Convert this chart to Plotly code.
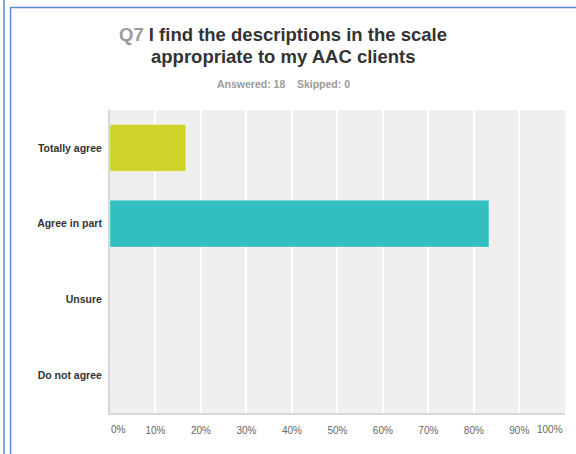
import plotly.graph_objects as go

# Survey responses for Q7 (18 answered)
categories = ["Totally agree", "Agree in part", "Unsure", "Do not agree"]
percentages = [16.67, 83.33, 0.0, 0.0]
bar_colors = ["#D0D42A", "#33BEC0", "#F08B2E", "#9B5BA5"]
x_ticks = [0, 10, 20, 30, 40, 50, 60, 70, 80, 90, 100]

W, H = 576, 454
ML, MR, MT, MB = 110, 11, 110, 41
PW, PH = W - ML - MR, H - MT - MB


def px_x(px):
    return (px - ML) / PW


def px_y(py):
    return (H - MB - py) / PH


fig = go.Figure(
    go.Bar(
        x=percentages,
        y=categories,
        orientation="h",
        marker=dict(color=bar_colors, line=dict(color="rgba(255,255,255,0.35)", width=1)),
        hoverinfo="x+y",
    )
)

border = "#5A8AD0"
shapes = [
    dict(type="line", xref="paper", yref="paper", x0=px_x(4), x1=px_x(4),
         y0=px_y(0), y1=px_y(H), line=dict(color=border, width=1.5)),
    dict(type="line", xref="paper", yref="paper", x0=px_x(10.5), x1=px_x(10.5),
         y0=px_y(7), y1=px_y(H), line=dict(color=border, width=1.5)),
    dict(type="line", xref="paper", yref="paper", x0=px_x(10), x1=px_x(W),
         y0=px_y(7.5), y1=px_y(7.5), line=dict(color=border, width=1.5)),
]

tick_font = dict(family="Liberation Sans, Arial", size=10, color="#666666")
title_font = dict(family="Liberation Sans, Arial", size=18.5, color="#333333")
annotations = [
    dict(xref="paper", yref="paper", x=px_x(283), y=px_y(34), xanchor="center", yanchor="middle",
         showarrow=False,
         text="<b><span style='color:#9A9A9A'>Q7</span> I find the descriptions in the scale</b>",
         font=title_font),
    dict(xref="paper", yref="paper", x=px_x(283), y=px_y(56), xanchor="center", yanchor="middle",
         showarrow=False,
         text="<b>appropriate to my AAC clients</b>",
         font=title_font),
    dict(xref="paper", yref="paper", x=px_x(283), y=px_y(84), xanchor="center", yanchor="middle",
         showarrow=False,
         text="<b>Answered: 18&nbsp;&nbsp;&nbsp;&nbsp;Skipped: 0</b>",
         font=dict(family="Liberation Sans, Arial", size=10.5, color="#9A9A9A")),
]

# end tick labels are aligned inward, against the plot edges
end_ticks = {x_ticks[0]: "left", x_ticks[-1]: "right"}
for v, anchor in end_ticks.items():
    annotations.append(
        dict(xref="x", yref="paper", x=v, y=px_y(430), xanchor=anchor, yanchor="middle",
             showarrow=False, text=f"{v}%", font=tick_font,
             xshift=-1 if anchor == "left" else 0)
    )

fig.update_layout(
    width=W,
    height=H,
    margin=dict(l=ML, r=MR, t=MT, b=MB, autoexpand=False),
    paper_bgcolor="white",
    plot_bgcolor="#EFEFEF",
    bargap=0.38,
    showlegend=False,
    shapes=shapes,
    annotations=annotations,
    font=dict(family="Liberation Sans, Arial"),
)

fig.update_xaxes(
    range=[0, 100.05],
    tickvals=x_ticks,
    ticktext=["" if v in end_ticks else f"{v}%" for v in x_ticks],
    ticklabelstandoff=7,
    automargin=False,
    showgrid=True,
    gridcolor="white",
    gridwidth=1.5,
    zeroline=False,
    showline=True,
    linecolor="#D8D8D8",
    linewidth=2,
    ticks="",
    tickfont=tick_font,
    fixedrange=True,
)

fig.update_yaxes(
    categoryorder="array",
    categoryarray=categories,
    autorange="reversed",
    automargin=False,
    showgrid=False,
    zeroline=False,
    showline=True,
    linecolor="#D8D8D8",
    linewidth=2,
    ticks="outside",
    ticklen=4,
    tickcolor="rgba(0,0,0,0)",
    tickfont=dict(size=10.5, color="#333333", weight="bold"),
    fixedrange=True,
)

fig.write_html("out.html", config={"displayModeBar": False})
